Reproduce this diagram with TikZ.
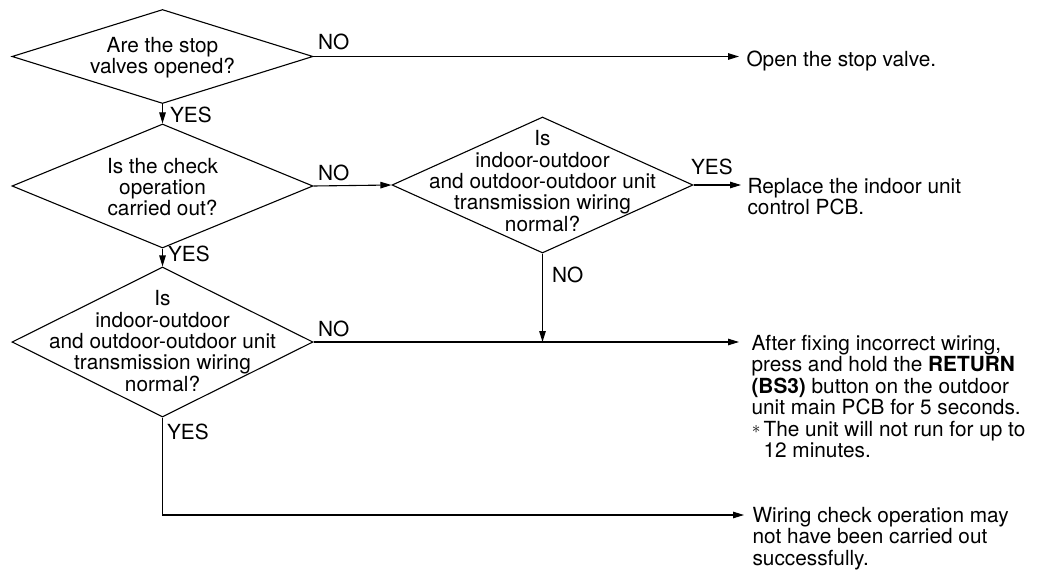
\documentclass[tikz,border=0pt]{standalone}
\usepackage{fontspec}
\setmainfont{TeX Gyre Heros}
\usetikzlibrary{shapes.geometric,arrows.meta}
\begin{document}
\begin{tikzpicture}[x=1pt,y=-1pt,
  font=\fontsize{20.8}{21.4}\selectfont,
  line width=1.1pt,
  dia/.style={draw, shape=diamond, inner sep=0pt, minimum width=301pt},
  qtext/.style={align=center, inner sep=0pt},
  rtext/.style={align=left, anchor=north west, inner ysep=0pt},
  lbl/.style={anchor=base west, inner sep=0pt},
  arr/.style={-{Triangle[length=11pt,width=6.5pt]}}
]
\useasboundingbox (0,0) rectangle (1043,572);
% decisions
\node[dia, minimum height=94pt] (d1) at (162.5,56.5) {};
\node[qtext] (q1) at (162.5,57.5) {Are the stop\\valves opened?};
\node[dia, minimum height=124pt] (d2) at (162.5,186) {};
\node[qtext] (q2) at (162.5,187) {Is the check\\operation\\carried out?};
\node[dia, minimum height=136pt] (d3) at (542.5,185) {};
\node[qtext] (q3) at (542.5,181) {Is\\indoor-outdoor\\and outdoor-outdoor unit\\transmission wiring\\normal?};
\node[dia, minimum height=150pt] (d4) at (162.5,342) {};
\node[qtext] (q4) at (162.5,341) {Is\\indoor-outdoor\\and outdoor-outdoor unit\\transmission wiring\\normal?};
% results
\node[rtext, inner xsep=7pt] (t1) at (739,50.7) {Open the stop valve.};
\node[rtext, inner xsep=6pt] (t2) at (741,177.7) {Replace the indoor unit\\control PCB.};
\node[rtext, inner xsep=12pt] (t3) at (739,334.7) {After fixing incorrect wiring,\\
press and hold the \textbf{RETURN}\\
\textbf{(BS3)} button on the outdoor\\
unit main PCB for 5 seconds.\\
\hspace*{12pt}\llap{\smash{\raisebox{2.5pt}{\fontsize{19}{19}\selectfont$\ast$}}\hspace{3pt}}The unit will not run for up to\\
\hspace*{12pt}12 minutes.};
\node[rtext, inner xsep=8pt] (t4) at (744,506.7) {Wiring check operation may\\not have been carried out\\successfully.};
% connectors
\draw[arr] (d1.east) -- (d1.east -| t1.west);
\draw[arr] (d1.south) -- (d2.north);
\draw[arr] (d2.east) -- (d3.west);
\draw[arr] (d3.east) -- (d3.east -| t2.west);
\draw[arr] (d2.south) -- (d4.north);
\coordinate (m) at (d3.south |- d4.east);
\draw[arr] (d3.south) -- (m);
\draw[arr] (d4.east) -- (d4.east -| t3.west);
\coordinate (b) at (162.5,515);
\draw[arr] (d4.south) -- (b) -- (b -| t4.west);
% labels
\node[lbl, xshift=4pt, yshift=7pt] (l1) at (d1.east) {NO};
\node[lbl, xshift=7pt, yshift=1pt] (l2) at (d2.north) {YES};
\node[lbl, xshift=4pt, yshift=6pt] (l3) at (d2.east) {NO};
\node[lbl, xshift=-3pt, yshift=10pt] (l4) at (d3.east) {YES};
\node[lbl, xshift=5pt, yshift=5pt] (l5) at (d4.north) {YES};
\node[lbl, xshift=9pt, yshift=-29pt] (l6) at (d3.south) {NO};
\node[lbl, xshift=4pt, yshift=6pt] (l7) at (d4.east) {NO};
\node[lbl, xshift=4pt, yshift=-22pt] (l8) at (d4.south) {YES};
\end{tikzpicture}
\end{document}
